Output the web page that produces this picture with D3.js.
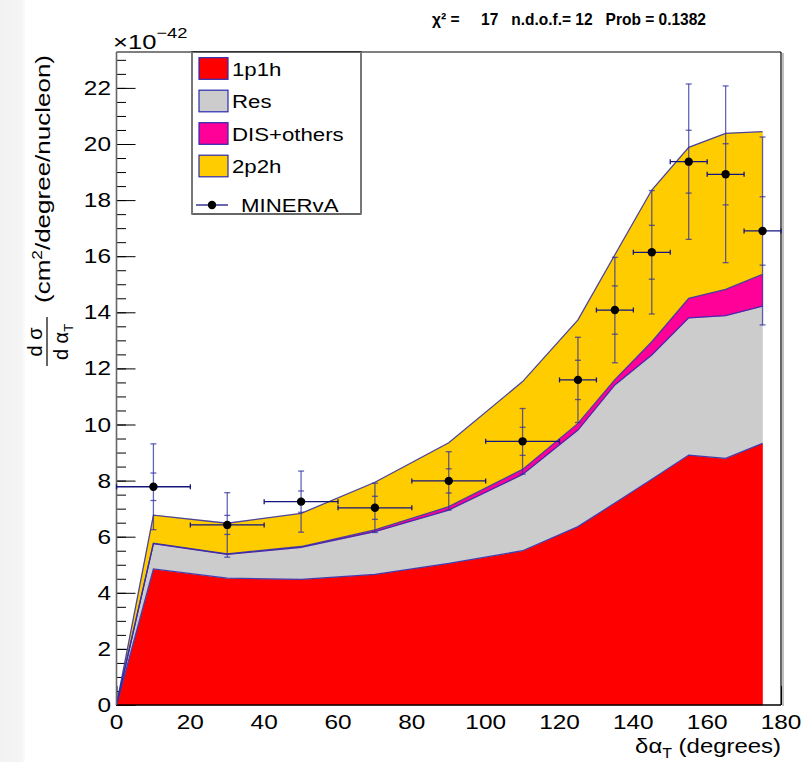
<!DOCTYPE html>
<html>
<head>
<meta charset="utf-8">
<script src="https://cdn.jsdelivr.net/npm/d3@7"></script>
<style>
  body { margin: 0; background: #fff; }
  svg { display: block; font-family: "Liberation Sans", Arial, Helvetica, sans-serif; }
</style>
</head>
<body>
<svg id="chart" width="811" height="762"></svg>
<script>
// δα_T bins (degrees)
const binLow    = [0, 20, 40, 60, 80, 100, 120, 130, 140, 150, 160, 170];
const binHigh   = [20, 40, 60, 80, 100, 120, 130, 140, 150, 160, 170, 180];
const binCenter = [10, 30, 50, 70, 90, 110, 125, 135, 145, 155, 165, 175];

// Simulated contributions, ×10^-42 cm²/degree/nucleon (stacked bottom to top)
const mc1p1h = [4.85, 4.52, 4.48, 4.66, 5.05, 5.50, 6.36, 7.20, 8.05, 8.91, 8.79, 9.33];
const mcRes  = [0.90, 0.85, 1.14, 1.52, 1.90, 2.72, 3.44, 4.21, 4.43, 4.89, 5.09, 4.89];
const mcDIS  = [0.02, 0.02, 0.03, 0.06, 0.12, 0.18, 0.24, 0.19, 0.47, 0.70, 0.94, 1.13];
const mc2p2h = [1.00, 1.09, 1.18, 1.70, 2.28, 3.13, 3.69, 4.45, 5.41, 5.38, 5.56, 5.09];

// MINERvA measurement with statistical and total uncertainties
const dataValue   = [7.78, 6.42, 7.25, 7.03, 7.99, 9.40, 11.59, 14.08, 16.14, 19.37, 18.92, 16.90];
const dataStatErr = [0.49, 0.34, 0.38, 0.41, 0.43, 0.50, 0.70, 0.86, 0.96, 1.12, 1.09, 1.22];
const dataTotErr  = [1.53, 1.15, 1.09, 0.88, 1.04, 1.17, 1.52, 1.88, 2.20, 2.77, 3.15, 3.35];

const xTickValues = [0, 20, 40, 60, 80, 100, 120, 140, 160, 180];
const yTickValues = [0, 2, 4, 6, 8, 10, 12, 14, 16, 18, 20, 22];

const layerKeys   = ["1p1h", "Res", "DIS+others", "2p2h"];
const layerValues = [mc1p1h, mcRes, mcDIS, mc2p2h];
const layerColors = ["#ff0000", "#cccccc", "#ff0099", "#ffcc00"];
const dataLabel   = "MINERvA";

const svg = d3.select("#chart");

// frame geometry
const L = 116.5, R = 781, T = 52, B = 705;
const x = d3.scaleLinear().domain([0, 180]).range([L, R]);
const y = d3.scaleLinear().domain([0, 23.28]).range([B, T]);

const lineBlue = "#2a2ab0";

function stretched(parent, px, py, str, size, sx, anchor) {
  return parent.append("text")
    .attr("transform", `translate(${px},${py}) scale(${sx},1)`)
    .attr("font-size", size)
    .attr("text-anchor", anchor || "start")
    .attr("fill", "#000")
    .text(str);
}

// faint strip along the left border
const defs = svg.append("defs");
const grad = defs.append("linearGradient").attr("id", "edgeFade").attr("x1", 0).attr("x2", 1).attr("y1", 0).attr("y2", 0);
grad.append("stop").attr("offset", "0%").attr("stop-color", "#f2f2f2");
grad.append("stop").attr("offset", "85%").attr("stop-color", "#f5f5f5");
grad.append("stop").attr("offset", "100%").attr("stop-color", "#fbfbfb");
svg.append("rect").attr("x", 0).attr("y", 0).attr("width", 25).attr("height", 762).attr("fill", "url(#edgeFade)");

// ---- ticks (drawn beneath the stacked histograms) ----
const gTicks = svg.append("g");
const yMinor = d3.range(0, 23.01, 0.5);
gTicks.append("g").attr("transform", `translate(${L},0)`)
  .call(d3.axisLeft(y).tickValues(yMinor).tickSize(-9.5).tickFormat(""))
  .call(g => g.select(".domain").remove());
gTicks.append("g").attr("transform", `translate(${L},0)`)
  .call(d3.axisLeft(y).tickValues(yTickValues).tickSize(-19).tickFormat(""))
  .call(g => g.select(".domain").remove());
gTicks.append("g").attr("transform", `translate(0,${B})`)
  .call(d3.axisBottom(x).tickValues(xTickValues).tickSize(-19).tickFormat(""))
  .call(g => g.select(".domain").remove());
gTicks.selectAll("line").attr("stroke", "#000").attr("stroke-width", 1);

// ---- stacked simulation ----
const rows = [{ x: 0 }].concat(binCenter.map((c, i) => {
  const r = { x: c };
  layerKeys.forEach((k, j) => r[k] = layerValues[j][i]);
  return r;
}));
layerKeys.forEach(k => rows[0][k] = 0);

const series = d3.stack().keys(layerKeys)(rows);

const area = d3.area()
  .x(d => x(d.data.x))
  .y0(d => y(d[0]))
  .y1(d => y(d[1]));
const topLine = d3.line()
  .x(d => x(d.data.x))
  .y(d => y(d[1]));

const gStack = svg.append("g");
gStack.selectAll("path.fill").data(series).join("path")
  .attr("class", "fill")
  .attr("d", area)
  .attr("fill", (d, i) => layerColors[i])
  .attr("stroke", (d, i) => layerColors[i])
  .attr("stroke-width", 0.6);
gStack.selectAll("path.edge").data(series).join("path")
  .attr("class", "edge")
  .attr("d", topLine)
  .attr("fill", "none")
  .attr("stroke", lineBlue)
  .attr("stroke-width", 1.3)
  .attr("stroke-opacity", 0.85);

// ---- frame ----
const gFrame = svg.append("g");
gFrame.append("line").attr("x1", L).attr("x2", R).attr("y1", T).attr("y2", T).attr("stroke", "#000").attr("stroke-width", 1.2);
gFrame.append("line").attr("x1", R + 2).attr("x2", R + 2).attr("y1", T + 1).attr("y2", B + 1).attr("stroke", "#aaa").attr("stroke-width", 1.5);
gFrame.append("line").attr("x1", R).attr("x2", R).attr("y1", T).attr("y2", B).attr("stroke", "#000").attr("stroke-width", 1.2);
gFrame.append("line").attr("x1", L).attr("x2", R).attr("y1", B).attr("y2", B).attr("stroke", "#000").attr("stroke-width", 1.5);
gFrame.append("line").attr("x1", L).attr("x2", L).attr("y1", T).attr("y2", B).attr("stroke", "#666").attr("stroke-width", 1.6);

// ---- data points ----
const gData = svg.append("g");
const vCol = "#3030a0";
const hCol = "#15157e";
dataValue.forEach((v, i) => {
  const cx = x(binCenter[i]), cy = y(v);
  const g = gData.append("g");
  // horizontal bin width
  g.append("line").attr("x1", x(binLow[i])).attr("x2", x(binHigh[i])).attr("y1", cy).attr("y2", cy)
    .attr("stroke", hCol).attr("stroke-width", 1.3);
  [binLow[i], binHigh[i]].forEach(b => {
    g.append("line").attr("x1", x(b)).attr("x2", x(b)).attr("y1", cy - 2.5).attr("y2", cy + 2.5)
      .attr("stroke", hCol).attr("stroke-width", 1.3);
  });
  // vertical total error with caps at total and statistical ends
  g.append("line").attr("x1", cx).attr("x2", cx).attr("y1", y(v + dataTotErr[i])).attr("y2", y(v - dataTotErr[i]))
    .attr("stroke", vCol).attr("stroke-width", 1.3).attr("stroke-opacity", 0.75);
  [v + dataTotErr[i], v - dataTotErr[i], v + dataStatErr[i], v - dataStatErr[i]].forEach(e => {
    g.append("line").attr("x1", cx - 3).attr("x2", cx + 3).attr("y1", y(e)).attr("y2", y(e))
      .attr("stroke", vCol).attr("stroke-width", 1.3).attr("stroke-opacity", 0.75);
  });
  g.append("circle").attr("cx", cx).attr("cy", cy).attr("r", 4.2).attr("fill", "#000");
});

// ---- axis labels ----
const gLab = svg.append("g");
yTickValues.forEach(v => stretched(gLab, 111, y(v) + 7, String(v), 20, 1.22, "end"));
xTickValues.forEach(v => stretched(gLab, x(v), 729, String(v), 20, 1.22, "middle"));

// x title: δα_T (degrees)
const xt = gLab.append("text")
  .attr("transform", `translate(${R},753) scale(1.14,1)`)
  .attr("text-anchor", "end").attr("font-size", 21);
xt.append("tspan").text("δα");
xt.append("tspan").attr("font-size", 14).attr("dy", 5).text("T");
xt.append("tspan").attr("dy", -5).text(" (degrees)");

// exponent
const ex = gLab.append("text")
  .attr("transform", `translate(113,49) scale(1.22,1)`)
  .attr("font-size", 21);
ex.append("tspan").text("×10");
ex.append("tspan").attr("font-size", 15).attr("dy", -11).text("−42");

// y title: dσ/dα_T (cm²/degree/nucleon)
const yt = gLab.append("text")
  .attr("transform", "translate(50,303) rotate(-90)")
  .attr("font-size", 21)
  .attr("textLength", 248).attr("lengthAdjust", "spacingAndGlyphs");
yt.append("tspan").text("(cm");
yt.append("tspan").attr("font-size", 14).attr("dy", -8).text("2");
yt.append("tspan").attr("dy", 8).text("/degree/nucleon)");

gLab.append("text").attr("transform", "translate(42,342) rotate(-90)")
  .attr("font-size", 20).attr("text-anchor", "middle").text("d σ");
gLab.append("line").attr("x1", 47).attr("x2", 47).attr("y1", 317).attr("y2", 366)
  .attr("stroke", "#000").attr("stroke-width", 1.2);
const den = gLab.append("text").attr("transform", "translate(68,342) rotate(-90)")
  .attr("font-size", 20).attr("text-anchor", "middle");
den.append("tspan").text("d α");
den.append("tspan").attr("font-size", 13).attr("dy", 5).text("T");

// fit summary
svg.append("text")
  .attr("x", 432).attr("y", 25)
  .attr("font-size", 16.5).attr("font-weight", "bold")
  .attr("textLength", 274).attr("lengthAdjust", "spacingAndGlyphs")
  .style("white-space", "pre")
  .text("χ² =     17   n.d.o.f.= 12   Prob = 0.1382");

// ---- legend ----
const lg = svg.append("g");
const LX0 = 192, LX1 = 361, LY0 = 52, LY1 = 214;
lg.append("rect").attr("x", LX0).attr("y", LY0).attr("width", LX1 - LX0).attr("height", LY1 - LY0)
  .attr("fill", "#fff").attr("stroke", "#000").attr("stroke-width", 1.2);
lg.append("line").attr("x1", LX0).attr("x2", LX0).attr("y1", LY0).attr("y2", LY1).attr("stroke", "#777").attr("stroke-width", 2);
lg.append("line").attr("x1", LX1).attr("x2", LX1).attr("y1", LY0).attr("y2", LY1).attr("stroke", "#777").attr("stroke-width", 2);

const rowY = [68.5, 101, 133.5, 166, 205];
layerKeys.forEach((k, i) => {
  lg.append("rect").attr("x", 199).attr("y", rowY[i] - 10.8).attr("width", 29).attr("height", 21.6)
    .attr("fill", layerColors[i]).attr("stroke", lineBlue).attr("stroke-width", 1.2);
  stretched(lg, 232, rowY[i] + 7, k, 19, 1.17, "start");
});
lg.append("line").attr("x1", 196).attr("x2", 228).attr("y1", rowY[4]).attr("y2", rowY[4])
  .attr("stroke", hCol).attr("stroke-width", 1.3);
lg.append("circle").attr("cx", 212).attr("cy", rowY[4]).attr("r", 4.2).attr("fill", "#000");
stretched(lg, 241, rowY[4] + 7, dataLabel, 19, 1.17, "start");
</script>
</body>
</html>
